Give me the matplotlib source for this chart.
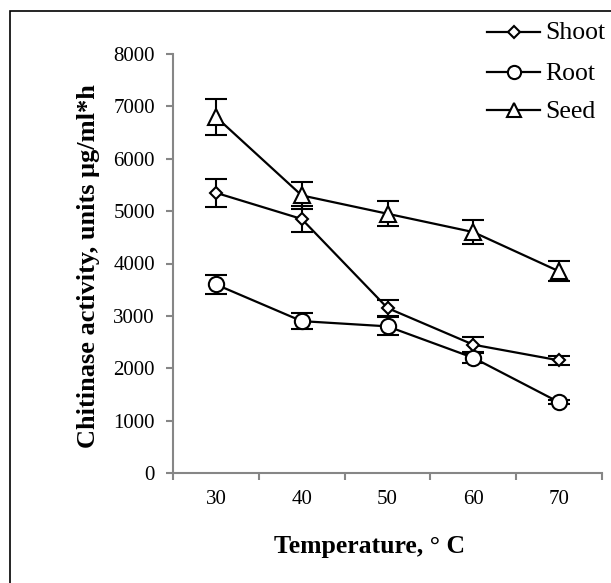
import matplotlib
matplotlib.use("Agg")
import matplotlib.pyplot as plt
from matplotlib.patches import Rectangle
from matplotlib.lines import Line2D

plt.rcParams['font.family'] = ['Liberation Serif', 'DejaVu Serif']

categories = ["30", "40", "50", "60", "70"]
shoot = [5350, 4850, 3150, 2450, 2150]
shoot_err = [270, 240, 150, 140, 90]
root = [3600, 2900, 2800, 2200, 1350]
root_err = [180, 160, 170, 100, 40]
seed = [6800, 5300, 4950, 4600, 3850]
seed_err = [340, 250, 240, 230, 190]
series_names = ["Shoot", "Root", "Seed"]
yticks = [0, 1000, 2000, 3000, 4000, 5000, 6000, 7000, 8000]

W, H = 611, 583
fig = plt.figure(figsize=(W / 100, H / 100), dpi=100)
fig.patches.append(Rectangle((10 / W, -0.1), 1.2, 1 - 11 / H + 0.1, transform=fig.transFigure,
                             fill=False, edgecolor='black', linewidth=1.2))

ax = fig.add_axes([173 / W, 1 - 473 / H, (602 - 173) / W, (473 - 54) / H])
x = list(range(len(categories)))
axis_gray = '#868686'

styles = [('D', 6.5), ('o', 11), ('^', 11)]
leg_sizes = [6, 9.5, 9.5]
for vals, errs, name, (mk, ms) in zip([shoot, root, seed], [shoot_err, root_err, seed_err],
                                       series_names, styles):
    ax.errorbar(x, vals, yerr=errs, fmt='none', ecolor='black', elinewidth=1.5,
                capsize=8, capthick=1.5, zorder=2)
    ax.plot(x, vals, color='black', lw=1.6, marker=mk, ms=ms, mfc='white',
            mec='black', mew=1.5, zorder=3)

ax.set_xlim(-0.5, len(categories) - 0.5)
ax.set_ylim(0, 8000)
ax.set_yticks(yticks)
ax.set_yticklabels([str(v) for v in yticks])
ax.set_xticks([i - 0.5 for i in range(len(categories) + 1)])
ax.set_xticklabels([])
ax.set_xticks(x, minor=True)
ax.set_xticklabels(categories, minor=True)
ax.tick_params(axis='x', which='major', length=5, width=1.5, color=axis_gray, direction='out')
ax.tick_params(axis='x', which='minor', length=0, pad=12, labelsize=15)
ax.tick_params(axis='y', length=5, width=1.5, color=axis_gray, direction='out', pad=8, labelsize=15)

for s in ['top', 'right']:
    ax.spines[s].set_visible(False)
for s in ['left', 'bottom']:
    ax.spines[s].set_color(axis_gray)
    ax.spines[s].set_linewidth(1.5)

fig.text(369 / W, 1 - 547 / H, "Temperature, ° C", fontsize=18.5, fontweight='bold',
         ha='center', va='center')
fig.text(89 / W, 1 - 266 / H, "Chitinase activity, units μg/ml*h", fontsize=19,
         fontweight='bold', ha='center', va='center', rotation=90)

# legend (manual placement)
row_line_y = [32, 72, 110]
row_base_y = [39, 80, 118]
for (mk, _), lms, name, ly, by in zip(styles, leg_sizes, series_names, row_line_y, row_base_y):
    fig.add_artist(Line2D([487 / W, 540 / W], [1 - ly / H, 1 - ly / H], color='black',
                          lw=1.6, transform=fig.transFigure))
    fig.add_artist(Line2D([513.5 / W], [1 - ly / H], marker=mk, ms=lms, mfc='white',
                          mec='black', mew=1.5, transform=fig.transFigure))
    fig.text(545 / W, 1 - by / H, name, fontsize=18.5, ha='left', va='baseline')

fig.savefig("out.png", dpi=100)
